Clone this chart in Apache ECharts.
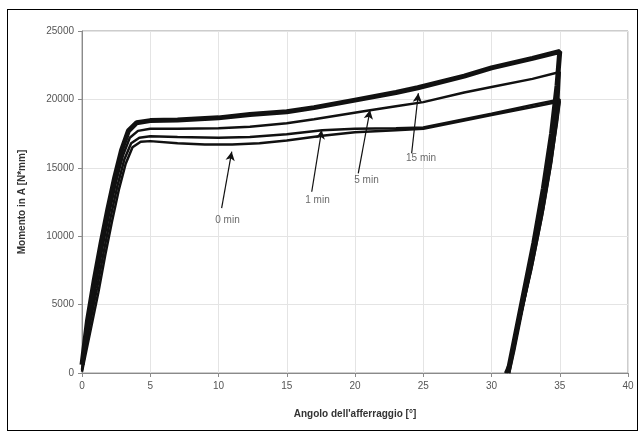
<!DOCTYPE html>
<html>
<head>
<meta charset="utf-8">
<script src="https://cdn.jsdelivr.net/npm/echarts@6/dist/echarts.min.js"></script>
<style>
html,body{margin:0;padding:0;background:#fff;}
#chart{position:absolute;left:0;top:0;width:644px;height:436px;}
#frame{position:absolute;left:7px;top:9px;width:629px;height:420px;border:1px solid #000;pointer-events:none;}
</style>
</head>
<body>
<div id="chart"></div>
<div id="frame"></div>
<script>
// ---- data ----
const xTicks = [0, 5, 10, 15, 20, 25, 30, 35, 40];
const yTicks = [0, 5000, 10000, 15000, 20000, 25000];

const angle15 = [0, 0.4, 0.9, 1.4, 1.9, 2.4, 2.9, 3.4, 4.0, 5, 7, 10, 12.3, 15, 17, 20, 23, 24.6, 28, 30, 33, 35, 34.8, 34.4, 33.8, 33.1, 32.3, 31.6, 31.2];
const moment15 = [600, 3800, 6800, 9500, 12000, 14300, 16300, 17700, 18300, 18450, 18500, 18650, 18900, 19100, 19400, 19950, 20500, 20850, 21700, 22300, 23000, 23500, 21000, 17500, 13500, 9500, 5500, 2000, 0];

const angle5 = [0, 0.5, 1.0, 1.5, 2.0, 2.5, 3.0, 3.5, 4.1, 5, 7, 10, 12.3, 15, 17, 21.1, 23, 25, 28, 30, 33, 35, 34.9, 34.5, 33.9, 33.2, 32.4, 31.7, 31.3];
const moment5 = [300, 3500, 6400, 9200, 11700, 14000, 15900, 17200, 17700, 17850, 17850, 17900, 18000, 18250, 18550, 19200, 19500, 19800, 20500, 20900, 21500, 22000, 20000, 17000, 13200, 9300, 5300, 1800, 0];

const angle1 = [0, 0.5, 1.1, 1.6, 2.1, 2.6, 3.1, 3.6, 4.2, 5, 7, 10, 12.3, 15, 17.6, 20, 23, 25, 28, 30, 33, 35, 34.8, 34.4, 33.8, 33.0, 32.2, 31.5, 31.1];
const moment1 = [200, 3200, 6200, 8900, 11400, 13700, 15600, 16800, 17200, 17300, 17250, 17200, 17250, 17450, 17750, 17850, 17900, 17950, 18550, 18950, 19600, 20000, 18500, 15500, 12000, 8000, 4500, 1200, 0];

const angle0 = [0, 0.6, 1.2, 1.7, 2.2, 2.7, 3.2, 3.7, 4.3, 5, 7, 9, 11, 13, 15, 17.6, 20, 23, 25, 28, 30, 33, 35, 34.8, 34.3, 33.7, 32.9, 32.1, 31.4, 31.0];
const moment0 = [100, 3000, 5900, 8600, 11100, 13400, 15300, 16500, 16900, 16950, 16800, 16700, 16700, 16800, 17000, 17350, 17600, 17750, 17850, 18450, 18850, 19450, 19850, 18300, 15000, 11500, 7500, 4000, 900, 0];

const annoLabels = ["0 min", "1 min", "5 min", "15 min"];
const annoBaseX = [10.23, 16.83, 20.24, 24.15];
const annoBaseY = [12060, 13250, 14600, 16060];
const annoTipX = [10.97, 17.56, 21.10, 24.64];
const annoTipY = [16180, 17760, 19220, 20450];
const annoTextX = [10.66, 17.25, 20.84, 24.84];
const annoTextY = [11200, 12650, 14100, 15700];

function zip(a, b) { return a.map((v, i) => [v, b[i]]); }

const chart = echarts.init(document.getElementById('chart'), null, {renderer: 'canvas'});
const FONT = 'Liberation Sans, Arial, sans-serif';

const curve = (name, xs, ys, w) => ({
  name: name, type: 'line', data: zip(xs, ys), showSymbol: false, symbol: 'none',
  lineStyle: {color: '#111', width: w}, itemStyle: {color: '#111'}, z: 3, animation: false
});

const arrows = annoLabels.map((l, i) => [
  {coord: [annoBaseX[i], annoBaseY[i]]},
  {coord: [annoTipX[i], annoTipY[i]]}
]);

chart.setOption({
  animation: false,
  backgroundColor: '#fff',
  grid: {left: 82, top: 31, right: 16, bottom: 63, show: true, borderColor: '#9a9a9a', borderWidth: 1},
  xAxis: {
    type: 'value', min: xTicks[0], max: xTicks[xTicks.length - 1], interval: 5,
    name: "Angolo dell'afferraggio [°]", nameLocation: 'middle', nameGap: 36,
    nameTextStyle: {fontFamily: FONT, fontSize: 10, fontWeight: 'bold', color: '#333'},
    axisLine: {show: true, lineStyle: {color: '#8a8a8a'}},
    axisTick: {show: true, length: 4, lineStyle: {color: '#8a8a8a'}},
    axisLabel: {fontFamily: FONT, fontSize: 10, color: '#555', margin: 8},
    splitLine: {show: true, lineStyle: {color: '#e4e4e4'}}
  },
  yAxis: {
    type: 'value', min: yTicks[0], max: yTicks[yTicks.length - 1], interval: 5000,
    name: 'Momento in A [N*mm]', nameLocation: 'middle', nameGap: 55,
    nameTextStyle: {fontFamily: FONT, fontSize: 10, fontWeight: 'bold', color: '#333'},
    axisLine: {show: true, lineStyle: {color: '#8a8a8a'}},
    axisTick: {show: true, length: 4, lineStyle: {color: '#8a8a8a'}},
    axisLabel: {fontFamily: FONT, fontSize: 10, color: '#555', margin: 8, formatter: v => String(v)},
    splitLine: {show: true, lineStyle: {color: '#e4e4e4'}}
  },
  series: [
    curve('0 min', angle0, moment0, 2.5),
    curve('1 min', angle1, moment1, 2.5),
    curve('5 min', angle5, moment5, 2.5),
    Object.assign(curve('15 min', angle15, moment15, 5), {
      markLine: {
        silent: true, symbol: ['none', 'arrow'], symbolSize: [7, 9],
        lineStyle: {color: '#111', width: 1.2, type: 'solid'},
        label: {show: false},
        data: arrows
      }
    }),
    {
      type: 'scatter', data: annoLabels.map((l, i) => [annoTextX[i], annoTextY[i], l]),
      symbolSize: 0, silent: true, z: 5,
      label: {show: true, position: 'inside', formatter: p => p.value[2],
        fontFamily: FONT, fontSize: 10, color: '#444'}
    }
  ]
});
</script>
</body>
</html>
